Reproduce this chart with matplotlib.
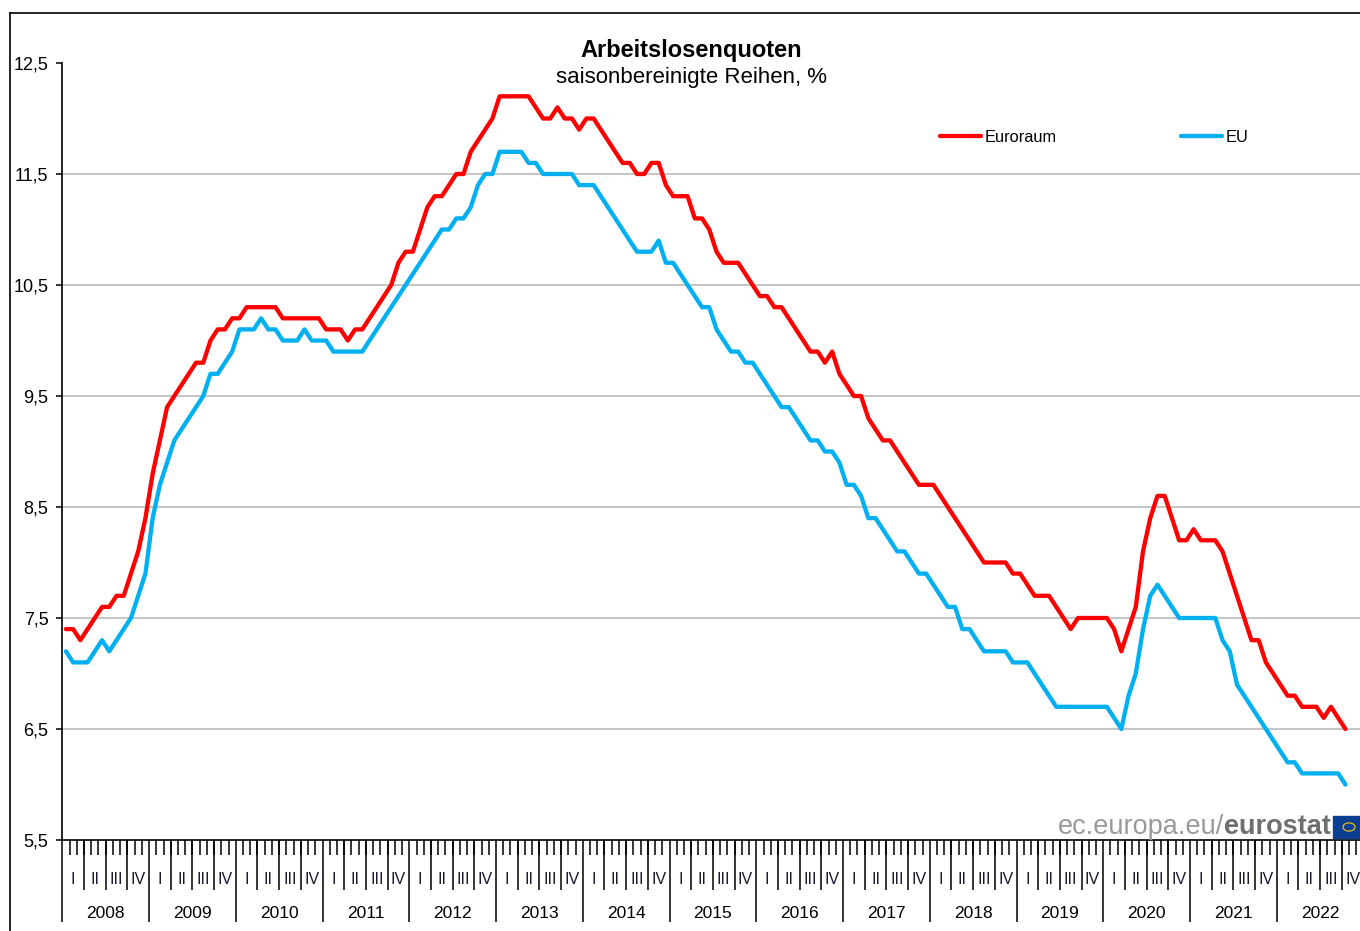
import numpy as np
import matplotlib
matplotlib.use("Agg")
import matplotlib.pyplot as plt
from matplotlib.lines import Line2D
from matplotlib.patches import Rectangle, Circle

plt.rcParams['font.family'] = ['Liberation Sans', 'DejaVu Sans']

# monthly, seasonally adjusted, Jan 2008 .. Oct 2022
euroraum = [
    7.4, 7.4, 7.3, 7.4, 7.5, 7.6, 7.6, 7.7, 7.7, 7.9, 8.1, 8.4,           # 2008
    8.8, 9.1, 9.4, 9.5, 9.6, 9.7, 9.8, 9.8, 10.0, 10.1, 10.1, 10.2,       # 2009
    10.2, 10.3, 10.3, 10.3, 10.3, 10.3, 10.2, 10.2, 10.2, 10.2, 10.2, 10.2,  # 2010
    10.1, 10.1, 10.1, 10.0, 10.1, 10.1, 10.2, 10.3, 10.4, 10.5, 10.7, 10.8,  # 2011
    10.8, 11.0, 11.2, 11.3, 11.3, 11.4, 11.5, 11.5, 11.7, 11.8, 11.9, 12.0,  # 2012
    12.2, 12.2, 12.2, 12.2, 12.2, 12.1, 12.0, 12.0, 12.1, 12.0, 12.0, 11.9,  # 2013
    12.0, 12.0, 11.9, 11.8, 11.7, 11.6, 11.6, 11.5, 11.5, 11.6, 11.6, 11.4,  # 2014
    11.3, 11.3, 11.3, 11.1, 11.1, 11.0, 10.8, 10.7, 10.7, 10.7, 10.6, 10.5,  # 2015
    10.4, 10.4, 10.3, 10.3, 10.2, 10.1, 10.0, 9.9, 9.9, 9.8, 9.9, 9.7,     # 2016
    9.6, 9.5, 9.5, 9.3, 9.2, 9.1, 9.1, 9.0, 8.9, 8.8, 8.7, 8.7,           # 2017
    8.7, 8.6, 8.5, 8.4, 8.3, 8.2, 8.1, 8.0, 8.0, 8.0, 8.0, 7.9,           # 2018
    7.9, 7.8, 7.7, 7.7, 7.7, 7.6, 7.5, 7.4, 7.5, 7.5, 7.5, 7.5,           # 2019
    7.5, 7.4, 7.2, 7.4, 7.6, 8.1, 8.4, 8.6, 8.6, 8.4, 8.2, 8.2,           # 2020
    8.3, 8.2, 8.2, 8.2, 8.1, 7.9, 7.7, 7.5, 7.3, 7.3, 7.1, 7.0,           # 2021
    6.9, 6.8, 6.8, 6.7, 6.7, 6.7, 6.6, 6.7, 6.6, 6.5,                     # 2022
]
eu = [
    7.2, 7.1, 7.1, 7.1, 7.2, 7.3, 7.2, 7.3, 7.4, 7.5, 7.7, 7.9,           # 2008
    8.4, 8.7, 8.9, 9.1, 9.2, 9.3, 9.4, 9.5, 9.7, 9.7, 9.8, 9.9,           # 2009
    10.1, 10.1, 10.1, 10.2, 10.1, 10.1, 10.0, 10.0, 10.0, 10.1, 10.0, 10.0,  # 2010
    10.0, 9.9, 9.9, 9.9, 9.9, 9.9, 10.0, 10.1, 10.2, 10.3, 10.4, 10.5,    # 2011
    10.6, 10.7, 10.8, 10.9, 11.0, 11.0, 11.1, 11.1, 11.2, 11.4, 11.5, 11.5,  # 2012
    11.7, 11.7, 11.7, 11.7, 11.6, 11.6, 11.5, 11.5, 11.5, 11.5, 11.5, 11.4,  # 2013
    11.4, 11.4, 11.3, 11.2, 11.1, 11.0, 10.9, 10.8, 10.8, 10.8, 10.9, 10.7,  # 2014
    10.7, 10.6, 10.5, 10.4, 10.3, 10.3, 10.1, 10.0, 9.9, 9.9, 9.8, 9.8,   # 2015
    9.7, 9.6, 9.5, 9.4, 9.4, 9.3, 9.2, 9.1, 9.1, 9.0, 9.0, 8.9,           # 2016
    8.7, 8.7, 8.6, 8.4, 8.4, 8.3, 8.2, 8.1, 8.1, 8.0, 7.9, 7.9,           # 2017
    7.8, 7.7, 7.6, 7.6, 7.4, 7.4, 7.3, 7.2, 7.2, 7.2, 7.2, 7.1,           # 2018
    7.1, 7.1, 7.0, 6.9, 6.8, 6.7, 6.7, 6.7, 6.7, 6.7, 6.7, 6.7,           # 2019
    6.7, 6.6, 6.5, 6.8, 7.0, 7.4, 7.7, 7.8, 7.7, 7.6, 7.5, 7.5,           # 2020
    7.5, 7.5, 7.5, 7.5, 7.3, 7.2, 6.9, 6.8, 6.7, 6.6, 6.5, 6.4,           # 2021
    6.3, 6.2, 6.2, 6.1, 6.1, 6.1, 6.1, 6.1, 6.1, 6.0,                     # 2022
]
years = list(range(2008, 2023))
quarters = ["I", "II", "III", "IV"]
yticks = [5.5, 6.5, 7.5, 8.5, 9.5, 10.5, 11.5, 12.5]

RED = "#ff0000"
BLUE = "#00b0f0"

W, H = 1360, 931
fig = plt.figure(figsize=(W / 100, H / 100), dpi=100)
ax = fig.add_axes([62.3 / W, (H - 840) / H, 1301.2 / W, 777 / H])

x = np.arange(len(euroraum)) + 0.5
for g in yticks[1:-1]:
    ax.axhline(g, color="#c0c0c0", lw=1.3, zorder=1)
l1, = ax.plot(x, euroraum, color=RED, lw=3.1, solid_joinstyle="round",
              solid_capstyle="round", zorder=3, label="Euroraum")
l2, = ax.plot(np.arange(len(eu)) + 0.5, eu, color=BLUE, lw=3.1,
              solid_joinstyle="round", solid_capstyle="round", zorder=3, label="EU")

ax.set_xlim(0, 12 * len(years))
ax.set_ylim(5.5, 12.5)
for s in ["top", "right"]:
    ax.spines[s].set_visible(False)
for s in ["left", "bottom"]:
    ax.spines[s].set_linewidth(1.2)
    ax.spines[s].set_color("black")

ax.set_yticks(yticks, [f"{v:.1f}".replace(".", ",") for v in yticks])
ax.tick_params(axis="y", length=4, width=1.1, pad=6, labelsize=13, colors="black")

ax.set_xticks(np.arange(0, 12 * len(years) + 1, 12), [])
ax.set_xticks(np.arange(0, 12 * len(years) + 1), minor=True)
ax.tick_params(axis="x", which="major", length=59, width=1.1, colors="black")
ax.tick_params(axis="x", which="minor", length=11, width=1.1, colors="black")
qpos = [m for m in range(0, 12 * len(years)) if m % 3 == 0 and m % 12 != 0]
ax.vlines(qpos, -50 / 777, 0, transform=ax.get_xaxis_transform(),
          color="black", lw=1.1, clip_on=False)

xt = ax.get_xaxis_transform()
for k, yr in enumerate(years):
    for q, lab in enumerate(quarters):
        ax.text(12 * k + 3 * q + 1.5, -40 / 777, lab, transform=xt, ha="center",
                va="center", fontsize=11.5, color="#1a1a2e")
    ax.text(12 * k + 6, -73 / 777, str(yr), transform=xt, ha="center",
            va="center", fontsize=12.5, color="black")

# titles
fig.text(691 / W, 1 - 50 / H, "Arbeitslosenquoten", ha="center", va="center",
         fontsize=17, fontweight="bold")
fig.text(691 / W, 1 - 77 / H, "saisonbereinigte Reihen, %", ha="center",
         va="center", fontsize=16)

# legend
ax.legend(handles=[l1, l2], loc="center left", bbox_to_anchor=(940 / W, 1 - 137 / H),
          bbox_transform=fig.transFigure, ncol=2, frameon=False, fontsize=11.8,
          handlelength=2.5, handletextpad=0.2, columnspacing=7.6,
          borderpad=0, borderaxespad=0)

# frame of the chart area
fig.add_artist(Line2D([9.5 / W, 9.5 / W], [0, 1 - 13 / H], color="black", lw=1.2))
fig.add_artist(Line2D([9.5 / W, 1], [1 - 13 / H, 1 - 13 / H], color="black", lw=1.2))

# eurostat mark
t2 = fig.text(1331 / W, 1 - 827 / H, "eurostat", ha="right", va="center",
              fontsize=19.5, fontweight="bold", color="#6f6f6f")
fig.canvas.draw()
bb = t2.get_window_extent()
fig.text(bb.x0 / W, 1 - 827 / H, "ec.europa.eu/", ha="right", va="center",
         fontsize=19.5, color="#9a9a9a")
fig.add_artist(Rectangle((1333 / W, 1 - 838 / H), 30 / W, 22 / H,
                         transform=fig.transFigure, color="#0b3d91"))
fig.add_artist(Circle((1349 / W, 1 - 827 / H), 6 / W, transform=fig.transFigure,
                      fill=False, ec="#ffcc00", lw=0.8))

fig.savefig("out.png", dpi=100)
